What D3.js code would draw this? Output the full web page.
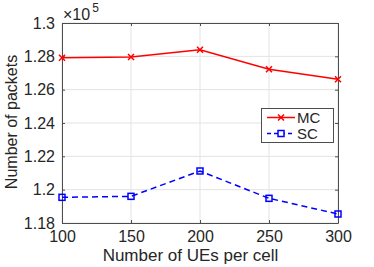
<!DOCTYPE html>
<html><head><meta charset="utf-8">
<script src="https://cdn.jsdelivr.net/npm/d3@7"></script>
<style>body{margin:0;background:#fff}svg{display:block}text{font-family:"Liberation Sans",Arial,sans-serif}</style>
</head><body><svg id="c" width="374" height="267"></svg>
<script>
const ues = [100, 150, 200, 250, 300];
const mc = [127920, 127960, 128400, 127220, 126630];
const sc = [119540, 119600, 121120, 119480, 118540];
const yTicks = [118000, 120000, 122000, 124000, 126000, 128000, 130000];
const yTickLabels = ["1.18", "1.2", "1.22", "1.24", "1.26", "1.28", "1.3"];
const seriesNames = ["MC", "SC"];

const W = 374, H = 267, m = {l: 62, r: 36, t: 23, b: 44};
const svg = d3.select("#c");
const x = d3.scaleLinear().domain([100, 300]).range([m.l, W - m.r]);
const y = d3.scaleLinear().domain([118000, 130000]).range([H - m.b, m.t]);
const axisCol = "#4d4d4d";

// grid
svg.append("g").selectAll("line").data(ues).join("line")
  .attr("x1", d => x(d)).attr("x2", d => x(d)).attr("y1", m.t).attr("y2", H - m.b)
  .attr("stroke", "#e3e3e3").attr("stroke-width", 1);
svg.append("g").selectAll("line").data(yTicks).join("line")
  .attr("y1", d => y(d)).attr("y2", d => y(d)).attr("x1", m.l).attr("x2", W - m.r)
  .attr("stroke", "#e3e3e3").attr("stroke-width", 1);

// axes
const xb = svg.append("g").attr("transform", `translate(0,${H - m.b})`)
  .call(d3.axisBottom(x).tickValues(ues).tickSize(-3).tickPadding(8).tickFormat(d3.format("d")));
const xt = svg.append("g").attr("transform", `translate(0,${m.t})`)
  .call(d3.axisTop(x).tickValues(ues).tickSize(-3).tickFormat(""));
const yl = svg.append("g").attr("transform", `translate(${m.l},0)`)
  .call(d3.axisLeft(y).tickValues(yTicks).tickSize(-3).tickPadding(7).tickFormat((d, i) => yTickLabels[i]));
const yr = svg.append("g").attr("transform", `translate(${W - m.r},0)`)
  .call(d3.axisRight(y).tickValues(yTicks).tickSize(-3).tickFormat(""));
[xb, xt, yl, yr].forEach(g => {
  g.selectAll("path,line").attr("stroke", axisCol).attr("stroke-width", 1);
  g.selectAll("text").attr("fill", "#262626").style("font-size", "16px").style("font-family", "'Liberation Sans',Arial,sans-serif");
});
xb.select(".domain").attr("d", `M${m.l},0.5H${W - m.r}`);

// exponent
const ex = svg.append("text").attr("x", m.l + 1).attr("y", 19.5).attr("fill", "#262626");
ex.append("tspan").style("font-size", "16px").text("×10");
ex.append("tspan").attr("dy", -8).attr("dx", 2).style("font-size", "12px").text("5");

// labels
svg.append("text").attr("x", 190.5).attr("y", 261).attr("text-anchor", "middle")
  .attr("fill", "#262626").style("font-size", "17px").text("Number of UEs per cell");
svg.append("text").attr("transform", `translate(17,122) rotate(-90)`).attr("text-anchor", "middle")
  .attr("fill", "#262626").style("font-size", "16px").text("Number of packets");

const line = d3.line().x((d, i) => x(ues[i])).y(d => y(d));
// MC
svg.append("path").datum(mc).attr("d", line).attr("fill", "none").attr("stroke", "#ff0000").attr("stroke-width", 1.5);
const xMark = (g, cx, cy, col) => {
  const s = 3;
  g.append("path").attr("d", `M${cx - s},${cy - s}L${cx + s},${cy + s}M${cx - s},${cy + s}L${cx + s},${cy - s}`)
    .attr("stroke", col).attr("stroke-width", 1.5).attr("fill", "none");
};
const mg = svg.append("g");
mc.forEach((v, i) => xMark(mg, x(ues[i]), y(v), "#ff0000"));
// SC
svg.append("path").datum(sc).attr("d", line).attr("fill", "none").attr("stroke", "#0000ff").attr("stroke-width", 1.5).attr("stroke-dasharray", "6,4");
svg.append("g").selectAll("rect").data(sc).join("rect")
  .attr("x", (d, i) => x(ues[i]) - 3).attr("y", d => y(d) - 3).attr("width", 6).attr("height", 6)
  .attr("fill", "none").attr("stroke", "#0000ff").attr("stroke-width", 1.5);

// legend
const lg = svg.append("g");
lg.append("rect").attr("x", 261.5).attr("y", 108.5).attr("width", 72).attr("height", 34)
  .attr("fill", "#fff").attr("stroke", axisCol).attr("stroke-width", 1);
const rows = [{n: seriesNames[0], c: "#ff0000", dash: null, y: 117.5}, {n: seriesNames[1], c: "#0000ff", dash: "4,3", y: 133.5}];
rows.forEach((r, i) => {
  lg.append("line").attr("x1", 267).attr("x2", 295).attr("y1", r.y).attr("y2", r.y)
    .attr("stroke", r.c).attr("stroke-width", 1.5).attr("stroke-dasharray", r.dash);
  if (i === 0) xMark(lg, 281, r.y, r.c);
  else lg.append("rect").attr("x", 278).attr("y", r.y - 3).attr("width", 6).attr("height", 6)
    .attr("fill", "#fff").attr("stroke", r.c).attr("stroke-width", 1.5);
  lg.append("text").attr("x", 297).attr("y", r.y + 5.5).attr("fill", "#262626").style("font-size", "15px").text(r.n);
});
</script></body></html>
